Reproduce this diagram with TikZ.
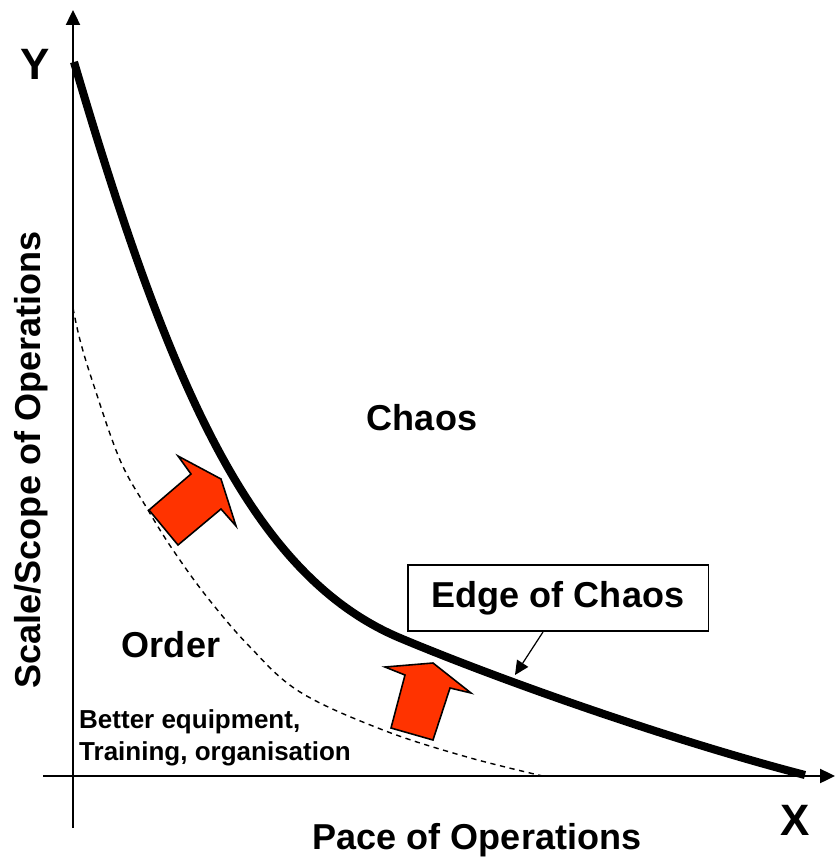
\documentclass[tikz,border=0pt]{standalone}
\usepackage{fontspec}
\setmainfont{Liberation Sans}
\usetikzlibrary{arrows.meta}
\usetikzlibrary{calc}
\definecolor{pushred}{RGB}{255,51,0}

\begin{document}
\begin{tikzpicture}[
    x=0.02cm, y=-0.02cm,
    axis/.style={line width=1.1pt, -{Triangle[length=8.5pt, width=8pt]}},
    big/.style={font=\fontsize{20.5}{24}\selectfont\bfseries},
    huge/.style={font=\fontsize{25}{30}\selectfont\bfseries},
    small/.style={font=\fontsize{14.8}{18.2}\selectfont\bfseries, align=left},
    edgebox/.style={rectangle, draw=black, line width=1.1pt, minimum width=6.02cm, minimum height=1.32cm, inner sep=0pt},
    push/.style={fill=pushred, draw=black, line width=0.9pt, line join=miter},
    pointer/.style={line width=0.7pt, -{Triangle[length=8pt, width=7.5pt]}}
]
\useasboundingbox (0,0) rectangle (837,861);

% axes
\coordinate (ybot) at (73,828);
\coordinate (ytop) at (73,10);
\coordinate (xleft) at (43,776);
\coordinate (xright) at (835,776);
\draw[axis] (ybot) -- (ytop);
\draw[axis] (xleft) -- (xright);

\node[huge] (Ylbl) at (35,64) {Y};
\node[huge] (Xlbl) at (795,820) {X};
\node[big] (Pace) at (477,840) {Pace of Operations};
\node[big, rotate=90] (Scale) at (31,460) {Scale/Scope of Operations};

% old edge (dashed) and new edge of chaos
\draw[dashed, dash pattern=on 3pt off 2.6pt, line width=0.8pt] plot[smooth, tension=0.6] coordinates {
    (73,308) (80,340) (93,383) (120,460) (148,510) (173,550) (207,597) (250,647)
    (300,692) (383,730) (467,757) (547,777)};
\coordinate (top) at (74,62);
\coordinate (knee) at (400,638);
\coordinate (bottom) at (805,775);
\draw[line width=4.6pt] (top) .. controls (168,381) and (250,575) .. (knee)
    .. controls (500,680) and (670,740) .. (bottom);

\node[big] (Chaos) at (422,418) {Chaos};
\node[big] (Order) at (171,645) {Order};
\node[small, anchor=north west] (Better) at (73,703) {Better equipment,\\Training, organisation};

\node[edgebox, big] (Edge) at (558,598) {Edge of Chaos};
\coordinate (edgetip) at (515,675);
\draw[pointer] ($(Edge.south)+(-15,0)$) -- (edgetip);

% push arrows
\draw[push] (149,510) -- (191,474) -- (178,456) -- (221,479) -- (236,526) -- (221,509) -- (178,545) -- cycle;
\draw[push] (391,728) -- (405,675) -- (385,667) -- (433,663) -- (471,693) -- (450,688) -- (433,740) -- cycle;
\end{tikzpicture}
\end{document}
